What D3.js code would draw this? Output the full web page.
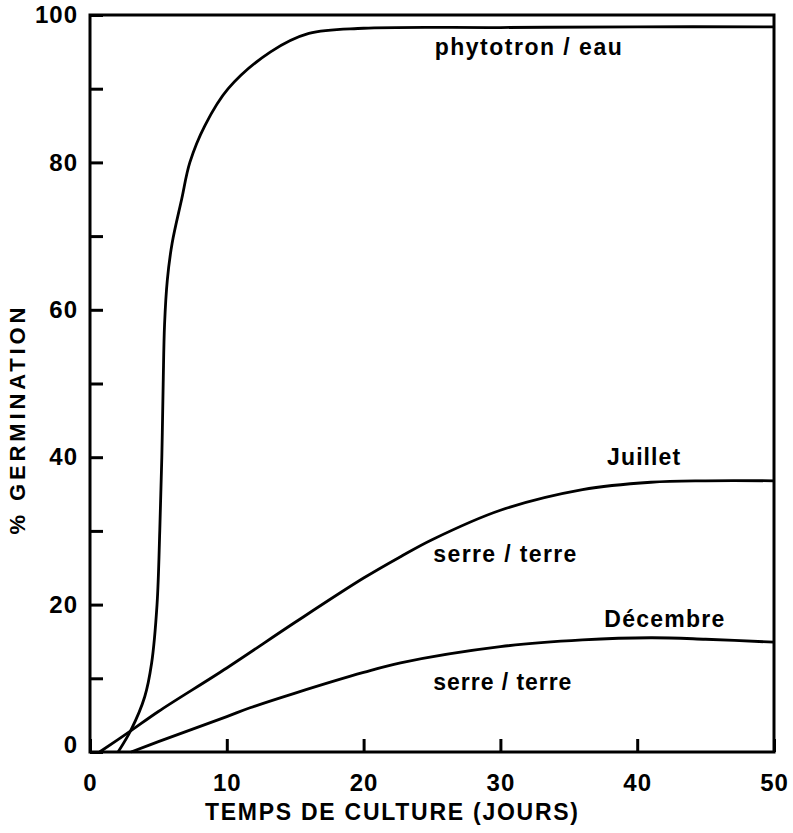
<!DOCTYPE html>
<html><head><meta charset="utf-8">
<script src="https://cdn.jsdelivr.net/npm/d3@7/dist/d3.min.js"></script>
<style>body{margin:0;background:#fff}svg{display:block}</style>
</head><body>
<svg id="c" width="793" height="833"></svg>
<script>
// Data (days, % germination)
const phytotronX = [2.05, 3, 4, 4.5, 4.9, 5.1, 5.25, 5.35, 5.45, 5.65, 6.0, 6.7, 7.3, 8.4, 10.1, 13.2, 16, 20, 30, 40, 50];
const phytotronY = [0, 3, 7.5, 12, 20, 30, 40, 50, 58, 64, 69, 75, 80, 85, 90, 95, 97.5, 98.2, 98.3, 98.4, 98.4];
const juilletX = [0.7, 3, 5, 10, 15, 20, 22.7, 25, 30, 36, 41, 45, 50];
const juilletY = [0, 2.9, 5.5, 11.4, 17.6, 23.6, 26.5, 28.8, 32.8, 35.6, 36.6, 36.8, 36.8];
const decembreX = [3, 5, 10, 11.7, 15, 20, 22.7, 30, 36, 41, 45, 50];
const decembreY = [0, 1.4, 4.8, 6, 8, 10.8, 12.1, 14.3, 15.2, 15.5, 15.3, 14.9];
const xTicks = [0, 10, 20, 30, 40, 50];
const yTicks = [0, 10, 20, 30, 40, 50, 60, 70, 80, 90, 100];
const yLabels = [0, 20, 40, 60, 80, 100];
const xTitle = "TEMPS DE CULTURE (JOURS)";
const yTitle = "% GERMINATION";
const labels = [
  {text: "phytotron / eau", x: 25.2, y: 94.6, len: 187},
  {text: "Juillet", x: 37.8, y: 38.9, len: 73},
  {text: "serre / terre", x: 25.1, y: 25.8, len: 143},
  {text: "Décembre", x: 37.6, y: 17, len: 120},
  {text: "serre / terre", x: 25.1, y: 8.4, len: 138}
];

const svg = d3.select("#c");
const L = 90, R = 774, T = 15, B = 752;
const x = d3.scaleLinear().domain([0, 50]).range([L, R]);
const y = d3.scaleLinear().domain([0, 100]).range([B, T]);
const font = "'Liberation Sans', Arial, Helvetica, sans-serif";

// frame
svg.append("rect").attr("x", L).attr("y", T).attr("width", R - L).attr("height", B - T)
  .attr("fill", "none").attr("stroke", "#000").attr("stroke-width", 3);

// x axis
const xa = svg.append("g").attr("transform", `translate(0,${B})`)
  .call(d3.axisBottom(x).tickValues(xTicks).tickSizeInner(-13).tickSizeOuter(0).tickPadding(22).tickFormat(d3.format("d")));
xa.select(".domain").remove();
xa.selectAll("line").attr("stroke", "#000").attr("stroke-width", 3);
xa.selectAll("text").attr("font-family", font).attr("font-weight", "bold").attr("font-size", 24).attr("fill", "#000").attr("letter-spacing", 1);

// y axis
const ya = svg.append("g").attr("transform", `translate(${L},0)`)
  .call(d3.axisLeft(y).tickValues(yTicks).tickSizeInner(-13).tickSizeOuter(0).tickPadding(12)
    .tickFormat(d => yLabels.includes(d) ? d : ""));
ya.select(".domain").remove();
ya.selectAll("line").attr("stroke", "#000").attr("stroke-width", 3);
ya.selectAll("text").attr("font-family", font).attr("font-weight", "bold").attr("font-size", 24).attr("fill", "#000").attr("letter-spacing", 1);
ya.selectAll(".tick").filter(d => d === 0).select("text").attr("dy", "-0.0em");

// curves
const line = d3.line().x(d => x(d[0])).y(d => y(d[1])).curve(d3.curveCatmullRom.alpha(0.5));
[[phytotronX, phytotronY], [juilletX, juilletY], [decembreX, decembreY]].forEach(([xs, ys]) => {
  svg.append("path").datum(xs.map((v, i) => [v, ys[i]]))
    .attr("d", line).attr("fill", "none").attr("stroke", "#000").attr("stroke-width", 2.8);
});

// labels
labels.forEach(l => {
  svg.append("text").attr("x", x(l.x)).attr("y", y(l.y)).text(l.text)
    .attr("font-family", font).attr("font-weight", "bold").attr("font-size", 23)
    .attr("textLength", l.len).attr("lengthAdjust", "spacing").attr("fill", "#000");
});

// axis titles
svg.append("text").attr("x", 391.5).attr("y", 820).attr("text-anchor", "middle")
  .attr("font-family", font).attr("font-weight", "bold").attr("font-size", 23)
  .attr("textLength", 373).attr("lengthAdjust", "spacing").text(xTitle);
svg.append("text").attr("transform", "translate(25,421) rotate(-90)").attr("text-anchor", "middle")
  .attr("font-family", font).attr("font-weight", "bold").attr("font-size", 22)
  .attr("textLength", 227).attr("lengthAdjust", "spacing").text(yTitle);
</script>
</body></html>
